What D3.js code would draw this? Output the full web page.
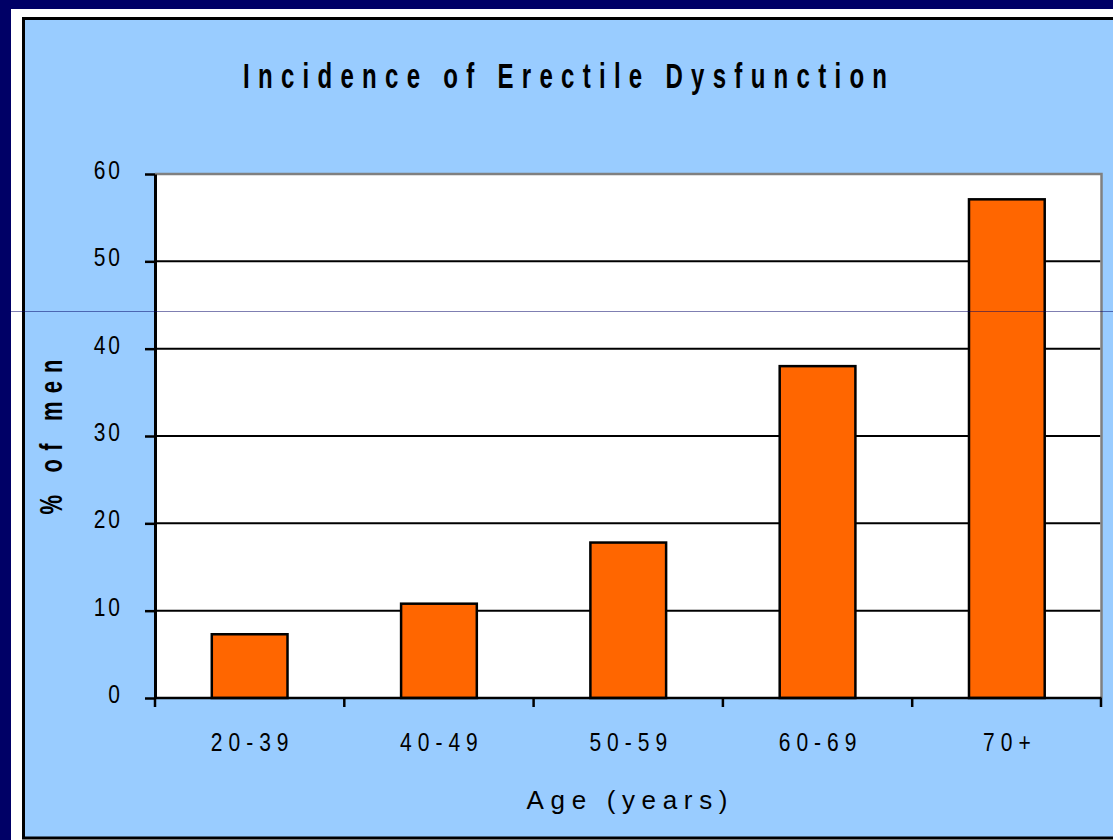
<!DOCTYPE html>
<html>
<head>
<meta charset="utf-8">
<script src="https://cdn.jsdelivr.net/npm/d3@7"></script>
<style>
  body { margin: 0; background: #000066; }
  svg { display: block; font-family: "Liberation Sans", Arial, sans-serif; }
</style>
</head>
<body>
<script>
// data
var ageGroups = ["20-39", "40-49", "50-59", "60-69", "70+"];
var pctMen = [7.3, 10.8, 17.8, 38, 57.1];
var yTicks = [0, 10, 20, 30, 40, 50, 60];

var W = 1113, H = 840;
var plotL = 155, plotR = 1101.5, plotT = 174, plotB = 698;

var svg = d3.select("body").append("svg").attr("width", W).attr("height", H);

// frame: navy page, white strip, blue panel with black edge
svg.append("rect").attr("width", W).attr("height", H).attr("fill", "#000066");
svg.append("rect").attr("x", 11).attr("y", 9).attr("width", W).attr("height", H).attr("fill", "#ffffff");
svg.append("rect").attr("x", 23.5).attr("y", 18.5).attr("width", 1200).attr("height", 819.5)
    .attr("fill", "#99ccff").attr("stroke", "#000").attr("stroke-width", 3);

var x = d3.scaleBand().domain(ageGroups).range([plotL, plotR]).paddingInner(0.6).paddingOuter(0.3);
var y = d3.scaleLinear().domain([0, 60]).range([plotB, plotT]);

// plot area
svg.append("rect").attr("x", plotL).attr("y", plotT).attr("width", plotR - plotL).attr("height", plotB - plotT)
    .attr("fill", "#fff");

// gridlines
svg.append("g").selectAll("line")
    .data(yTicks.filter(function(d) { return d > 0 && d < 60; }))
    .enter().append("line")
    .attr("x1", plotL).attr("x2", plotR - 1)
    .attr("y1", function(d) { return y(d); }).attr("y2", function(d) { return y(d); })
    .attr("stroke", "#000").attr("stroke-width", 2);

// grey top and right border
svg.append("path")
    .attr("d", "M" + plotL + "," + plotT + "H" + plotR + "V" + plotB)
    .attr("fill", "none").attr("stroke", "#808080").attr("stroke-width", 2.5);

// bars
svg.append("g").selectAll("rect")
    .data(pctMen)
    .enter().append("rect")
    .attr("x", function(d, i) { return x(ageGroups[i]); })
    .attr("y", function(d) { return y(d); })
    .attr("width", x.bandwidth())
    .attr("height", function(d) { return y(0) - y(d); })
    .attr("fill", "#ff6600").attr("stroke", "#000").attr("stroke-width", 2.5);

// y axis
var yAxis = svg.append("g").attr("transform", "translate(" + plotL + ",0)")
    .call(d3.axisLeft(y).tickValues(yTicks).tickSize(10).tickSizeOuter(0).tickPadding(22));
yAxis.select(".domain").attr("stroke", "#000").attr("stroke-width", 3);
yAxis.selectAll(".tick line").attr("stroke", "#000").attr("stroke-width", 2.5);
yAxis.selectAll(".tick text")
    .attr("font-family", "'Liberation Sans', Arial, sans-serif")
    .attr("font-size", 21).attr("fill", "#000")
    .attr("letter-spacing", 3)
    .attr("dy", "0.18em")
    .attr("transform", "scale(1,1.2)");

// x axis: boundary ticks + labels under the bands
var gap = x.step() - x.bandwidth();
var bounds = ageGroups.map(function(d) { return x(d) - gap / 2; }).concat([plotR - 0.5]);
svg.append("line").attr("x1", plotL).attr("x2", plotR).attr("y1", plotB).attr("y2", plotB)
    .attr("stroke", "#000").attr("stroke-width", 2.5);
svg.append("g").selectAll("line")
    .data(bounds)
    .enter().append("line")
    .attr("x1", function(d) { return d; }).attr("x2", function(d) { return d; })
    .attr("y1", plotB).attr("y2", plotB + 9)
    .attr("stroke", "#000").attr("stroke-width", 2.5);

var xAxis = svg.append("g").attr("transform", "translate(0," + plotB + ")")
    .call(d3.axisBottom(x).tickSize(0));
xAxis.select(".domain").remove();
xAxis.selectAll(".tick text")
    .attr("font-family", "'Liberation Sans', Arial, sans-serif")
    .attr("font-size", 21).attr("fill", "#000")
    .attr("letter-spacing", 6)
    .attr("y", 0).attr("dy", 0)
    .attr("transform", "translate(3,53) scale(1,1.22)");

// titles
svg.append("text")
    .attr("transform", "translate(565,88) scale(1,1.45)")
    .attr("text-anchor", "middle")
    .attr("font-size", 24).attr("font-weight", "bold")
    .attr("textLength", 644)
    .text("Incidence of Erectile Dysfunction");

svg.append("text")
    .attr("transform", "translate(627,809)")
    .attr("text-anchor", "middle")
    .attr("font-size", 26)
    .attr("textLength", 201)
    .text("Age (years)");

svg.append("text")
    .attr("transform", "translate(62,437) rotate(-90) scale(1,1.45)")
    .attr("text-anchor", "middle")
    .attr("font-size", 22).attr("font-weight", "bold")
    .attr("textLength", 155)
    .text("% of men");

// faint seam line that crosses the picture
svg.append("line").attr("x1", 11).attr("x2", W).attr("y1", 311.5).attr("y2", 311.5)
    .attr("stroke", "#000066").attr("stroke-opacity", 0.5).attr("stroke-width", 1);
</script>
</body>
</html>
